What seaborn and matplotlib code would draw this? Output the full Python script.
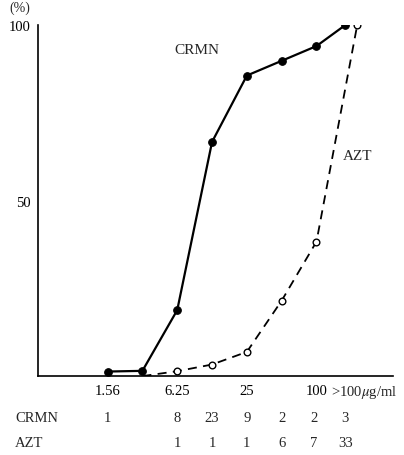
import matplotlib
matplotlib.use("Agg")
import matplotlib.pyplot as plt
import matplotlib.transforms as mtransforms
import seaborn as sns
import pandas as pd

# ---- data ----
# x positions are doubling-dilution steps: 0=0.78, 1=1.56, 2=3.12, 3=6.25, 4=12.5, 5=25, 6=50, 7=100, ~7.8/8.2 = >100
crmn_x = [1, 2, 3, 4, 5, 6, 7, 7.83]
crmn_y = [1.3, 1.5, 18.8, 66.7, 85.6, 89.8, 94.0, 100]
azt_x = [2, 3, 4, 5, 6, 7, 8.17]
azt_y = [0, 1.4, 3.3, 6.9, 21.5, 38.3, 100]
azt_marked = [False, True, True, True, True, True, True]

tick_pos = [0, 1, 2, 3, 4, 5, 6, 7]
tick_labels = ["", "1.56", "", "6.25", "", "25", "", "100"]

table_cols = [1, 3, 4, 5, 6, 6.92, 7.83]
crmn_counts = ["1", "8", "23", "9", "2", "2", "3"]
azt_counts = ["", "1", "1", "1", "6", "7", "33"]

sns.set_style("white")
plt.rcParams["font.family"] = ["Liberation Serif", "DejaVu Serif"]
plt.rcParams["mathtext.fontset"] = "stix"

fig = plt.figure(figsize=(4.04, 4.56), dpi=100)
ax = fig.add_axes([0.094, 0.173, 0.879, 0.770])

df_c = pd.DataFrame({"x": crmn_x, "y": crmn_y})
df_a = pd.DataFrame({"x": azt_x, "y": azt_y})

sns.lineplot(data=df_c, x="x", y="y", ax=ax, color="black", linewidth=1.6,
             marker="o", markersize=5.5, markerfacecolor="black",
             markeredgecolor="black", sort=False)
sns.lineplot(data=df_a, x="x", y="y", ax=ax, color="black", linewidth=1.3,
             sort=False)
ax.lines[-1].set_dashes([5, 3.5])
dfm = df_a[azt_marked]
ax.plot(dfm["x"], dfm["y"], linestyle="none", marker="o", markersize=4.8,
        markerfacecolor="white", markeredgecolor="black", markeredgewidth=1.0,
        zorder=5)

ax.set_xlim(-1, 9.2)
ax.set_ylim(0, 100)
ax.set_xlabel("")
ax.set_ylabel("")
for s in ["top", "right"]:
    ax.spines[s].set_visible(False)
for s in ["left", "bottom"]:
    ax.spines[s].set_linewidth(1.2)
    ax.spines[s].set_color("black")

ax.set_xticks(tick_pos)
ax.set_xticklabels(tick_labels, fontsize=10.5)
ax.set_yticks(range(0, 101, 10))
ax.set_yticklabels(["", "", "", "", "", "50", "", "", "", "", "100"], fontsize=10.5)
ax.tick_params(axis="x", direction="in", length=3, width=1, pad=6, colors="black")
ax.tick_params(axis="y", direction="out", length=3, width=1, pad=2, colors="black")

ax.text(7.42, -1.9, r">100$\mu$g/ml", fontsize=10.5, ha="left", va="top")
fig.text(0.05, 0.997, "(%)", fontsize=10, ha="center", va="top")

ax.text(3.56, 92.9, "CRMN", fontsize=11, ha="center", va="center")
ax.text(8.19, 62.7, "AZT", fontsize=11, ha="center", va="center")

trans = mtransforms.blended_transform_factory(ax.transData, fig.transFigure)
row_y = [1 - 419 / 456, 1 - 444 / 456]
fig.text(0.037, row_y[0], "CRMN", fontsize=10.5, ha="left", va="center")
fig.text(0.037, row_y[1], "AZT", fontsize=10.5, ha="left", va="center")
for xc, c, a in zip(table_cols, crmn_counts, azt_counts):
    ax.text(xc, row_y[0], c, transform=trans, fontsize=10.5, ha="center", va="center", clip_on=False)
    ax.text(xc, row_y[1], a, transform=trans, fontsize=10.5, ha="center", va="center", clip_on=False)

fig.savefig("out.png", dpi=100)
